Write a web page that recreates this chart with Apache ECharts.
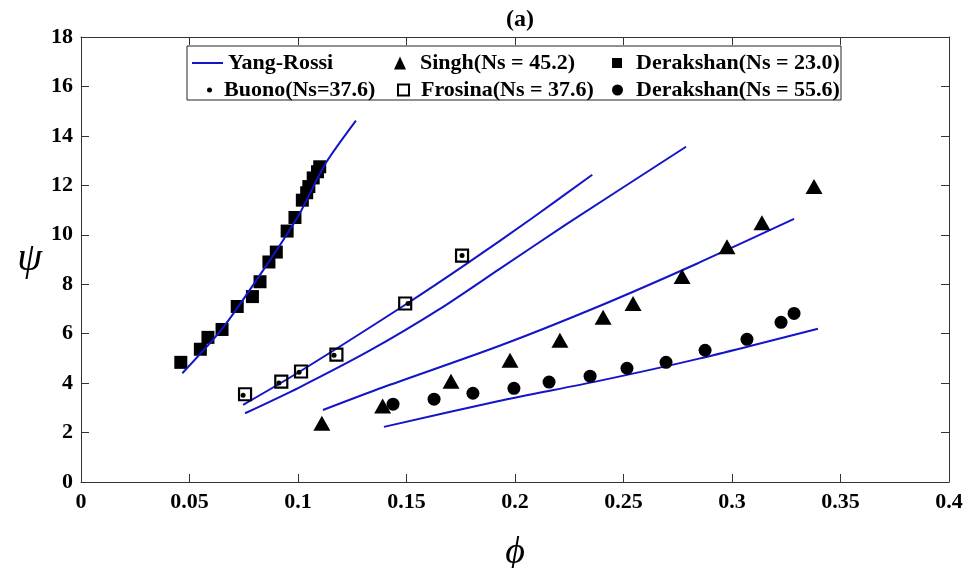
<!DOCTYPE html>
<html>
<head>
<meta charset="utf-8">
<script src="https://cdn.jsdelivr.net/npm/echarts@6/dist/echarts.min.js"></script>
<style>html,body{margin:0;padding:0;background:#fff}#c{width:968px;height:568px}</style>
</head>
<body>
<div id="c"></div>
<script>
// ---- data ----
var xTicks = [0, 0.05, 0.1, 0.15, 0.2, 0.25, 0.3, 0.35, 0.4];
var yTicks = [0, 2, 4, 6, 8, 10, 12, 14, 16, 18];

var yangRossi1 = [[0.0467,4.40],[0.0651,6.20],[0.0866,8.91],[0.1005,10.82],[0.1128,12.90],[0.1267,14.62]];
var yangRossi2 = [[0.0747,3.12],[0.1005,4.45],[0.1496,7.18],[0.1773,8.80],[0.2080,10.68],[0.2356,12.43]];
var yangRossi3 = [[0.0756,2.78],[0.1005,3.82],[0.1342,5.37],[0.1650,6.98],[0.1926,8.60],[0.2234,10.41],[0.2788,13.56]];
var yangRossi4 = [[0.1115,2.91],[0.1389,3.82],[0.1926,5.50],[0.2387,7.11],[0.2848,8.87],[0.3286,10.64]];
var yangRossi5 = [[0.1396,2.23],[0.1926,3.28],[0.2387,4.09],[0.2848,4.99],[0.3396,6.20]];

var singh = [[0.111,2.38],[0.139,3.07],[0.1705,4.08],[0.1977,4.92],[0.2207,5.73],[0.2406,6.66],[0.2544,7.22],[0.2770,8.31],[0.2977,9.52],[0.3138,10.49],[0.3378,11.95]];
var derakshan23 = [[0.046,4.84],[0.055,5.37],[0.0585,5.85],[0.065,6.17],[0.072,7.10],[0.079,7.50],[0.0825,8.10],[0.0866,8.90],[0.090,9.30],[0.095,10.15],[0.0986,10.70],[0.102,11.40],[0.104,11.70],[0.105,11.95],[0.107,12.30],[0.109,12.55],[0.110,12.75]];
var frosina = [[0.0756,3.55],[0.0923,4.06],[0.1014,4.47],[0.1177,5.15],[0.1494,7.22],[0.1756,9.16]];
var buono = [[0.0747,3.51],[0.0912,4.00],[0.1005,4.44],[0.1166,5.13],[0.1507,7.22],[0.1756,9.16]];
var derakshan556 = [[0.1438,3.15],[0.1627,3.35],[0.1806,3.59],[0.1995,3.79],[0.2157,4.04],[0.2346,4.28],[0.2516,4.60],[0.2696,4.84],[0.2876,5.33],[0.3069,5.77],[0.3226,6.46],[0.3286,6.82]];

var names = ['Yang-Rossi','Singh(Ns = 45.2)','Derakshan(Ns = 23.0)','Buono(Ns=37.6)','Frosina(Ns = 37.6)','Derakshan(Ns = 55.6)'];

// ---- chart ----
var FONT = 'Liberation Serif';
var BLUE = '#1414c8';
var chart = echarts.init(document.getElementById('c'), null, {renderer:'canvas'});
var axisLineStyle = {color:'#333', width:1};
var lineSeries = [yangRossi1,yangRossi2,yangRossi3,yangRossi4,yangRossi5].map(function(d){
  return {name:names[0], type:'line', data:d, smooth:0.25, symbol:'none',
    itemStyle:{color:BLUE}, lineStyle:{color:BLUE, width:2}, z:3, silent:true};
});
function leg(item, left, top, w, h, pad){
  return {data:[item], left:left, top:top, itemWidth:w, itemHeight:h, itemGap:4,
    textStyle:{fontFamily:FONT, fontWeight:'bold', fontSize:22, color:'#000', padding:[0,0,0,pad]},
    padding:0, selectedMode:false};
}
var option = {
  animation:false,
  backgroundColor:'#fff',
  title:{text:'(a)', left:515, textAlign:'center', top:3, textStyle:{fontFamily:FONT, fontWeight:'bold', fontSize:24, color:'#000'}},
  grid:{left:81, right:19, top:37, bottom:86, outerBoundsMode:'none', containLabel:false},
  xAxis:[{
    type:'value', min:0, max:0.4, interval:0.05,
    axisLine:{show:true, onZero:false, lineStyle:axisLineStyle},
    axisTick:{show:true, inside:true, length:8, lineStyle:axisLineStyle},
    axisLabel:{fontFamily:FONT, fontWeight:'bold', fontSize:22, color:'#000', margin:9,
      formatter:function(v){ return String(+v.toFixed(2)); }},
    splitLine:{show:false},
    name:'\u03d5', nameLocation:'middle', nameGap:52,
    nameTextStyle:{fontFamily:FONT, fontStyle:'italic', fontSize:38, color:'#000'}
  },{
    type:'value', min:0, max:0.4, interval:0.05, position:'top',
    axisLine:{show:true, onZero:false, lineStyle:axisLineStyle},
    axisTick:{show:true, inside:true, length:8, lineStyle:axisLineStyle},
    axisLabel:{show:false}, splitLine:{show:false}
  }],
  yAxis:[{
    type:'value', min:0, max:18, interval:2,
    axisLine:{show:true, onZero:false, lineStyle:axisLineStyle},
    axisTick:{show:true, inside:true, length:8, lineStyle:axisLineStyle},
    axisLabel:{fontFamily:FONT, fontWeight:'bold', fontSize:22, color:'#000', margin:8},
    splitLine:{show:false},
    name:'\u03c8', nameLocation:'middle', nameGap:39, nameRotate:0,
    nameTextStyle:{fontFamily:FONT, fontStyle:'italic', fontSize:40, color:'#000'}
  },{
    type:'value', min:0, max:18, interval:2, position:'right',
    axisLine:{show:true, onZero:false, lineStyle:axisLineStyle},
    axisTick:{show:true, inside:true, length:8, lineStyle:axisLineStyle},
    axisLabel:{show:false}, splitLine:{show:false}
  }],
  legend:[
    leg({name:names[0], icon:'rect', itemStyle:{color:BLUE}}, 192, 52, 31, 2, 0),
    leg({name:names[1], icon:'triangle'}, 394, 52, 12, 13, 9),
    leg({name:names[2], icon:'rect'}, 612, 52, 10, 10, 9),
    leg({name:names[3], icon:'circle'}, 207, 79, 5, 5, 7),
    leg({name:names[4], icon:'rect'}, 397, 79, 11, 11, 7),
    leg({name:names[5], icon:'circle'}, 612, 79, 11, 11, 8)
  ],
  graphic:[{type:'rect', shape:{x:187, y:46, width:654, height:54},
    style:{fill:'#fff', stroke:'#222', lineWidth:1}, z:-1, zlevel:0}],
  series: lineSeries.concat([
    {name:names[1], type:'scatter', data:singh, symbol:'triangle', symbolSize:[17,15],
      itemStyle:{color:'#000', opacity:1}, z:4},
    {name:names[2], type:'scatter', data:derakshan23, symbol:'rect', symbolSize:13,
      itemStyle:{color:'#000', opacity:1}, z:2},
    {name:names[4], type:'scatter', data:frosina, symbol:'rect', symbolSize:12,
      itemStyle:{color:'rgba(255,255,255,0)', borderColor:'#000', borderWidth:2.2, opacity:1}, z:4},
    {name:names[3], type:'scatter', data:buono, symbol:'circle', symbolSize:5,
      itemStyle:{color:'#000', opacity:1}, z:5},
    {name:names[5], type:'scatter', data:derakshan556, symbol:'circle', symbolSize:13,
      itemStyle:{color:'#000', opacity:1}, z:4}
  ])
};
chart.setOption(option);
</script>
</body>
</html>
